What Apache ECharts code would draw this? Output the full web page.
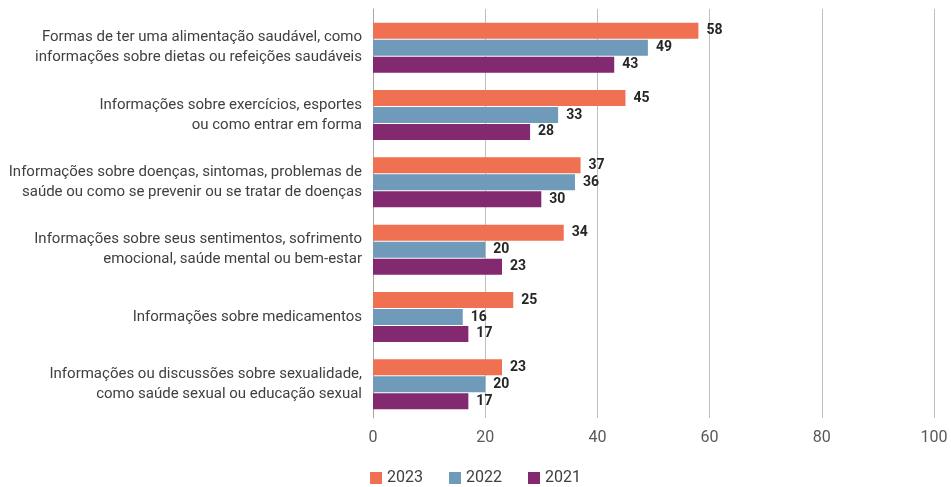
<!DOCTYPE html>
<html>
<head>
<meta charset="UTF-8">
<title></title>
<style type="text/css">
	html, body { margin: 0; padding: 0; background: #fff; }
	.chart { width: 951px; height: 487px; }
</style>
</head>
<body>
<div class="chart"></div>
<script src="https://cdn.jsdelivr.net/npm/echarts@6/dist/echarts.min.js"></script>
<script type="text/javascript">
	var categories = [
		'Formas de ter uma alimentação saudável, como\ninformações sobre dietas ou refeições saudáveis',
		'Informações sobre exercícios, esportes\nou como entrar em forma',
		'Informações sobre doenças, sintomas, problemas de\nsaúde ou como se prevenir ou se tratar de doenças',
		'Informações sobre seus sentimentos, sofrimento\nemocional, saúde mental ou bem-estar',
		'Informações sobre medicamentos',
		'Informações ou discussões sobre sexualidade,\ncomo saúde sexual ou educação sexual'
	];
	var years = ['2023', '2022', '2021'];
	var values2023 = [58, 45, 37, 34, 25, 23];
	var values2022 = [49, 33, 36, 20, 16, 20];
	var values2021 = [43, 28, 30, 23, 17, 17];
	var xTicks = [0, 20, 40, 60, 80, 100];

	var colors = ['#F07052', '#6F9AB9', '#83296F'];
	var font = 'Roboto, sans-serif';

	function bar(name, data, color) {
		return {
			name: name,
			type: 'bar',
			data: data,
			barWidth: 16,
			barGap: '6%',
			itemStyle: { color: color },
			label: {
				show: true,
				position: 'right',
				distance: 8,
				fontFamily: font,
				fontWeight: 'bold',
				fontSize: 14,
				color: '#262626'
			}
		};
	}

	var chart = echarts.init(document.querySelector('.chart'));
	chart.setOption({
		animation: false,
		grid: [
			{ left: 373, right: 17, top: 14, bottom: 69, outerBoundsMode: 'none', containLabel: false },
			// gridlines run a few px above the first bar group
			{ left: 373, right: 17, top: 9, height: 5, outerBoundsMode: 'none', containLabel: false }
		],
		legend: {
			bottom: -4,
			left: 'center',
			itemWidth: 12,
			itemHeight: 12,
			itemGap: 26,
			icon: 'rect',
			textStyle: { fontFamily: font, fontSize: 16, color: '#404040' },
			data: years
		},
		xAxis: [{
			type: 'value',
			min: xTicks[0],
			max: xTicks[xTicks.length - 1],
			interval: 20,
			axisLine: { show: false },
			axisTick: { show: false },
			axisLabel: { fontFamily: font, fontSize: 16, color: '#595959', margin: 12 },
			splitLine: { lineStyle: { color: '#BFBFBF', width: 1 } }
		}, {
			type: 'value',
			gridIndex: 1,
			min: xTicks[0],
			max: xTicks[xTicks.length - 1],
			interval: 20,
			axisLine: { show: false },
			axisTick: { show: false },
			axisLabel: { show: false },
			splitLine: { lineStyle: { color: '#BFBFBF', width: 1 } }
		}],
		yAxis: [{
			type: 'category',
			inverse: true,
			data: categories,
			axisLine: { lineStyle: { color: '#A6A6A6' } },
			axisTick: { show: false },
			axisLabel: {
				fontFamily: font,
				fontSize: 15,
				lineHeight: 20,
				color: '#404040',
				margin: 11,
				align: 'right'
			}
		}, {
			type: 'category',
			gridIndex: 1,
			data: [''],
			axisLine: { lineStyle: { color: '#A6A6A6' } },
			axisTick: { show: false },
			axisLabel: { show: false }
		}],
		series: [
			bar(years[0], values2023, colors[0]),
			bar(years[1], values2022, colors[1]),
			bar(years[2], values2021, colors[2])
		]
	});
</script>
</body>
</html>
